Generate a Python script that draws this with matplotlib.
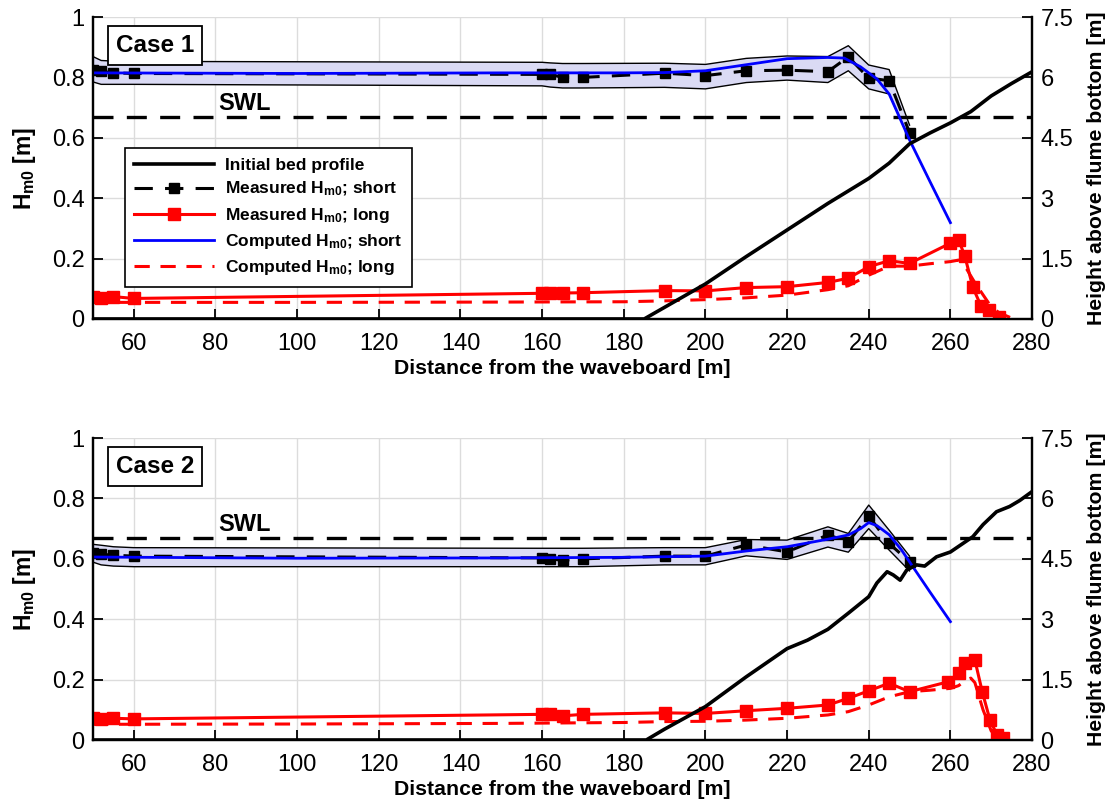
import matplotlib
matplotlib.use('Agg')
import matplotlib.pyplot as plt

plt.rcParams['font.family'] = ['Liberation Sans', 'DejaVu Sans']
plt.rcParams['mathtext.fontset'] = 'custom'
plt.rcParams['mathtext.rm'] = 'Liberation Sans:bold'
plt.rcParams['mathtext.bf'] = 'Liberation Sans:bold'
plt.rcParams['mathtext.it'] = 'Liberation Sans:bold'

# ---- data ----
swl = 0.67

# gauge positions (measured)
x_short = [50, 52, 55, 60, 160, 162, 165, 170, 190, 200, 210, 220, 230, 235, 240, 245, 250]

# Case 1
c1_meas_short = [0.824, 0.82, 0.815, 0.813, 0.81, 0.81, 0.80, 0.80, 0.814, 0.806, 0.822, 0.824,
                 0.819, 0.868, 0.798, 0.789, 0.617]
c1_band_up = [0.869, 0.856, 0.854, 0.853, 0.85, 0.848, 0.846, 0.846, 0.847, 0.843, 0.863, 0.871,
              0.869, 0.905, 0.841, 0.826, 0.642]
c1_band_lo = [0.785, 0.777, 0.777, 0.777, 0.772, 0.768, 0.765, 0.765, 0.767, 0.762, 0.783, 0.791,
              0.783, 0.822, 0.762, 0.745, 0.593]

x_c1_long = [50, 52, 55, 60, 160, 162, 165, 170, 190, 200, 210, 220, 230, 235, 240, 245, 250,
             260, 262, 263.5, 265.5, 267.5, 269.5, 272]
c1_meas_long = [0.074, 0.07, 0.074, 0.068, 0.085, 0.085, 0.086, 0.087, 0.094, 0.093, 0.104, 0.107,
                0.121, 0.135, 0.173, 0.193, 0.184, 0.251, 0.262, 0.21, 0.105, 0.043, 0.03, 0.008]

x_c1_comp_short = [50, 100, 150, 180, 190, 200, 210, 220, 230, 234, 238, 242, 245, 250, 255, 260]
c1_comp_short = [0.815, 0.813, 0.815, 0.815, 0.816, 0.822, 0.842, 0.862, 0.866, 0.864, 0.835,
                 0.795, 0.745, 0.593, 0.455, 0.319]

x_c1_comp_long = [50, 100, 150, 180, 190, 200, 210, 220, 230, 235, 240, 245, 250, 255, 260, 262,
                  264, 266, 268, 270, 272, 275]
c1_comp_long = [0.055, 0.055, 0.056, 0.057, 0.06, 0.064, 0.07, 0.079, 0.097, 0.11, 0.145, 0.175,
                0.175, 0.183, 0.19, 0.195, 0.165, 0.12, 0.08, 0.04, 0.02, 0.003]

x_c1_bed = [50, 185, 190, 200, 210, 220, 230, 240, 245, 250, 255, 260, 265, 270, 275, 280]
c1_bed = [0, 0, 0.29, 0.87, 1.55, 2.21, 2.87, 3.49, 3.87, 4.35, 4.62, 4.87, 5.15, 5.54, 5.85, 6.14]

# Case 2
c2_meas_short = [0.618, 0.615, 0.612, 0.609, 0.603, 0.600, 0.595, 0.60, 0.609, 0.609, 0.646, 0.623,
                 0.679, 0.657, 0.742, 0.651, 0.59]
c2_band_up = [0.648, 0.645, 0.64, 0.637, 0.635, 0.635, 0.635, 0.635, 0.637, 0.637, 0.664, 0.662,
              0.706, 0.684, 0.778, 0.695, 0.609]
c2_band_lo = [0.589, 0.58, 0.576, 0.574, 0.574, 0.574, 0.574, 0.574, 0.58, 0.58, 0.61, 0.598,
              0.639, 0.622, 0.70, 0.629, 0.56]

x_c2_long = [50, 52, 55, 60, 160, 162, 165, 170, 190, 200, 210, 220, 230, 235, 240, 245, 250,
             259.5, 262, 263.5, 266, 267.8, 269.7, 271.5, 273]
c2_meas_long = [0.072, 0.068, 0.072, 0.07, 0.085, 0.085, 0.08, 0.085, 0.09, 0.088, 0.097, 0.105,
                0.116, 0.138, 0.163, 0.188, 0.16, 0.193, 0.221, 0.256, 0.265, 0.16, 0.066, 0.015, 0.008]

x_c2_comp_short = [50, 100, 150, 180, 190, 200, 210, 220, 230, 235, 238, 240, 242, 245, 248, 250,
                   255, 260]
c2_comp_short = [0.606, 0.602, 0.603, 0.605, 0.607, 0.609, 0.626, 0.64, 0.665, 0.679, 0.7, 0.72,
                 0.71, 0.68, 0.63, 0.59, 0.49, 0.392]

x_c2_comp_long = [50, 100, 150, 180, 190, 200, 210, 220, 230, 235, 240, 245, 250, 255, 260, 262,
                  264, 265, 266, 268, 270, 272]
c2_comp_long = [0.052, 0.053, 0.055, 0.058, 0.061, 0.062, 0.066, 0.072, 0.083, 0.094, 0.116, 0.143,
                0.16, 0.165, 0.171, 0.18, 0.2, 0.205, 0.19, 0.1, 0.03, 0.003]

x_c2_bed = [50, 185.5, 190, 200, 210, 220, 225, 230, 235, 240, 242, 244.5, 246, 247.7, 249.3,
            251.7, 253.7, 256.6, 260, 265.5, 268, 271.3, 274.5, 277, 280]
c2_bed = [0, 0, 0.27, 0.83, 1.57, 2.27, 2.48, 2.75, 3.15, 3.56, 3.9, 4.18, 4.1, 3.97, 4.22,
          4.35, 4.32, 4.55, 4.67, 5.05, 5.35, 5.67, 5.8, 5.95, 6.17]

x_ticks = list(range(60, 281, 20))
left_ticks = [0, 0.2, 0.4, 0.6, 0.8, 1.0]
left_labels = ['0', '0.2', '0.4', '0.6', '0.8', '1']
right_ticks = [0, 1.5, 3, 4.5, 6, 7.5]
right_labels = ['0', '1.5', '3', '4.5', '6', '7.5']


def draw_panel(ax, title, meas_s, up, lo, xl, meas_l, xcs, comp_s, xcl, comp_l, xb, bed, legend=False):
    ax.fill_between(x_short, lo, up, facecolor='#dadaf4', edgecolor='none', zorder=1)
    ax.plot(x_short, up, color='black', lw=1.0, zorder=2)
    ax.plot(x_short, lo, color='black', lw=1.0, zorder=2)
    ax.axhline(swl, color='black', lw=2.4, dashes=(6, 4), zorder=2)
    h_ms, = ax.plot(x_short, meas_s, color='black', lw=2.2, dashes=(6, 4), marker='s',
                    markersize=7.5, zorder=3, label=r'Measured H$_{\mathbf{m0}}$; short')
    h_cs, = ax.plot(xcs, comp_s, color='#0000ff', lw=2.0, zorder=4,
                    label=r'Computed H$_{\mathbf{m0}}$; short')
    h_ml, = ax.plot(xl, meas_l, color='#ff0000', lw=2.2, marker='s', markersize=8, zorder=3,
                    label=r'Measured H$_{\mathbf{m0}}$; long')
    h_cl, = ax.plot(xcl, comp_l, color='#ff0000', lw=2.2, dashes=(5, 3.5), zorder=3,
                    label=r'Computed H$_{\mathbf{m0}}$; long')

    ax.set_xlim(50, 280)
    ax.set_ylim(0, 1)
    ax.set_xticks(x_ticks)
    ax.set_yticks(left_ticks)
    ax.set_yticklabels(left_labels)
    ax.grid(True, color='#dcdcdc', lw=1.0)
    ax.set_axisbelow(True)
    ax.tick_params(direction='in', length=7, width=1.3, labelsize=17, pad=6)
    ax.tick_params(axis='x', pad=10)
    ax.spines['top'].set_visible(False)
    for s in ['left', 'bottom', 'right']:
        ax.spines[s].set_linewidth(1.6)
    ax.set_xlabel('Distance from the waveboard [m]', fontsize=15.3, fontweight='bold', labelpad=3)
    ax.set_ylabel(r'H$_{\mathbf{m0}}$ [m]', fontsize=16.5, fontweight='bold', labelpad=10)

    ax.text(87, swl + 0.004, 'SWL', fontsize=17, fontweight='bold', ha='center', va='bottom', zorder=5)
    ax.text(0.066, 0.905, title, transform=ax.transAxes, fontsize=17.5, fontweight='bold',
            ha='center', va='center', zorder=6,
            bbox=dict(boxstyle='square,pad=0.33', facecolor='white', edgecolor='black', lw=1.3))

    ax2 = ax.twinx()
    h_bed, = ax2.plot(xb, bed, color='black', lw=2.6, label='Initial bed profile')
    ax2.set_ylim(0, 7.5)
    ax2.set_yticks(right_ticks)
    ax2.set_yticklabels(right_labels)
    ax2.tick_params(direction='in', length=7, width=1.3, labelsize=17, pad=6)
    ax2.spines['top'].set_visible(False)
    for s in ['left', 'bottom', 'right']:
        ax2.spines[s].set_linewidth(1.6)
    ax2.set_ylabel('Height above flume bottom [m]', fontsize=15.3, fontweight='bold', labelpad=10)

    if legend:
        leg = ax2.legend([h_bed, h_ms, h_ml, h_cs, h_cl],
                         [h.get_label() for h in [h_bed, h_ms, h_ml, h_cs, h_cl]],
                         loc='upper left', bbox_to_anchor=(0.034, 0.566), borderaxespad=0,
                         prop={'weight': 'bold', 'size': 12.5}, handlelength=4.6,
                         fancybox=False, framealpha=1, edgecolor='black', borderpad=0.55,
                         labelspacing=0.42, handletextpad=0.6)
        leg.get_frame().set_linewidth(1.2)
        leg.set_zorder(10)


fig = plt.figure(figsize=(11.15, 8.10), dpi=100)
ax_top = fig.add_axes([0.0834, 0.6062, 0.8422, 0.3728])
ax_bot = fig.add_axes([0.0834, 0.0864, 0.8422, 0.3728])

draw_panel(ax_top, 'Case 1', c1_meas_short, c1_band_up, c1_band_lo, x_c1_long, c1_meas_long,
           x_c1_comp_short, c1_comp_short, x_c1_comp_long, c1_comp_long, x_c1_bed, c1_bed, legend=True)
draw_panel(ax_bot, 'Case 2', c2_meas_short, c2_band_up, c2_band_lo, x_c2_long, c2_meas_long,
           x_c2_comp_short, c2_comp_short, x_c2_comp_long, c2_comp_long, x_c2_bed, c2_bed)

fig.savefig('out.png', dpi=100)
